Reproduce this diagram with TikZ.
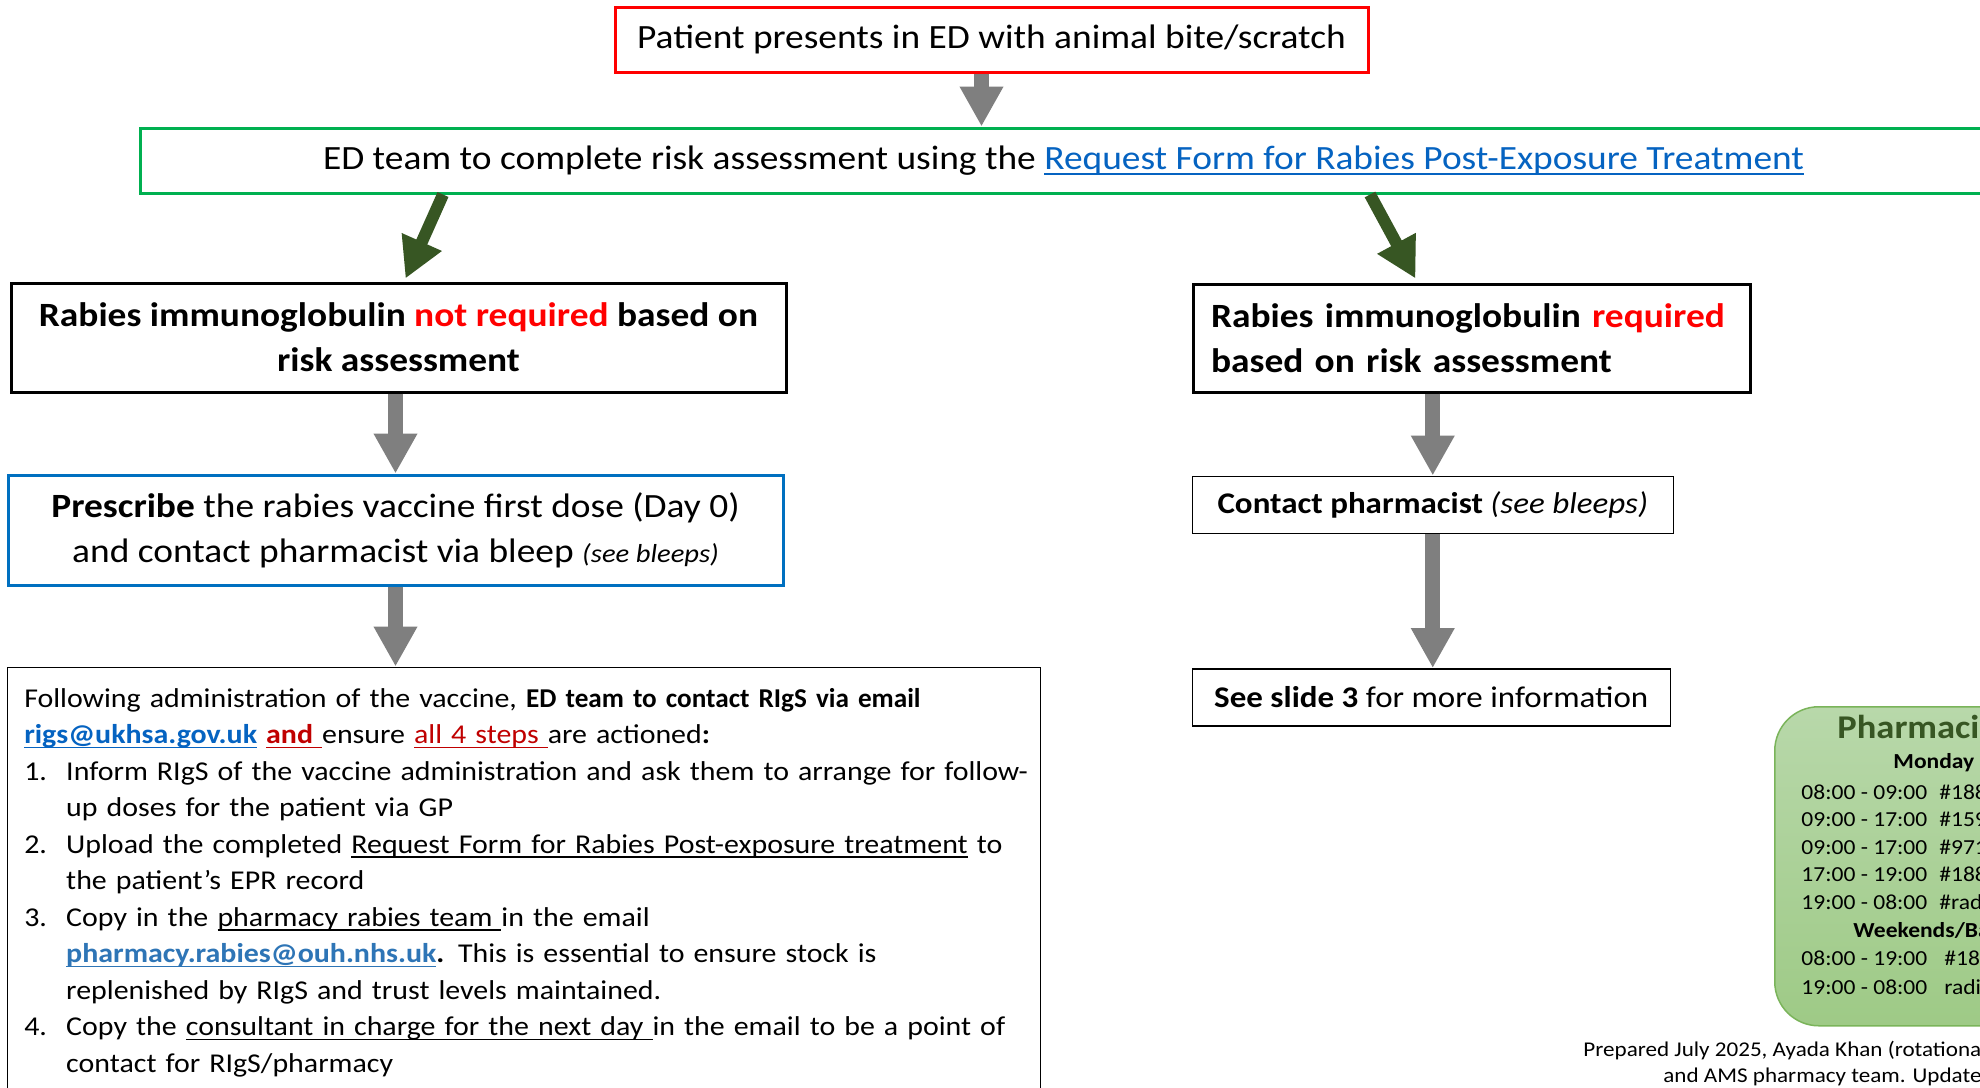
\documentclass[tikz,border=0pt]{standalone}
\usepackage{fontspec}
\setmainfont{Carlito}[FakeStretch = 1.1]
\newfontfamily\narrowfont{Carlito}
\usepackage{xcolor}
\usepackage{tikz}
\usetikzlibrary{positioning,arrows.meta}
\definecolor{flowgray}{HTML}{7F7F7F}
\definecolor{branchgreen}{HTML}{375623}
\definecolor{assessgreen}{HTML}{00B050}
\definecolor{prescribeblue}{HTML}{0070C0}
\definecolor{linkblue}{HTML}{0563C1}
\definecolor{mailblue}{HTML}{2E75B6}
\definecolor{alertred}{HTML}{FF0000}
\definecolor{darkred}{HTML}{C00000}
\definecolor{bleeptop}{HTML}{B8D8AA}
\definecolor{bleepbottom}{HTML}{9ECA86}
\definecolor{bleepedge}{HTML}{7AB45A}
\newcommand{\stepnum}[1]{\makebox[21pt][l]{#1}}
\newcommand{\stepgap}{\hspace*{21pt}}
\newcommand{\uln}[1]{\setbox0\hbox{#1}\rlap{\rule[-0.16em]{\wd0}{0.055em}}\box0\relax}

\begin{document}
\begin{tikzpicture}[x = 0.5pt, y = -0.5pt,
        box/.style = {draw = black, line width = 1.5pt, inner sep = 2pt},
        slim/.style = {draw = black, line width = 0.75pt, inner sep = 2pt},
        flow/.style = {draw = flowgray, line width = 7.5pt, -{Triangle[width = 20.5pt, length = 20pt]}},
        branch/.style = {draw = branchgreen, line width = 6pt, -{Triangle[width = 20.5pt, length = 20pt]}},
        bleepbox/.style = {draw = bleepedge, line width = 0.75pt, rounded corners = 22pt, top color = bleeptop, bottom color = bleepbottom, anchor = north west, minimum width = 200pt, minimum height = 159.5pt},
        bleep/.style = {inner sep = 0pt, anchor = west, font = \fontsize{10.7}{13}\selectfont}]
        \useasboundingbox (0, 0) rectangle (1980, 1087);
        \fill [white] (0, 0) rectangle (1980, 1087);
        \clip (0, 0) rectangle (1980, 1087);

        \node [box, draw = alertred, minimum width = 376.5pt, minimum height = 32.5pt, font = \fontsize{17}{20}\selectfont] (patient) at (991.5, 39.5) {Patient presents in ED with animal bite/scratch};
        \node [box, draw = assessgreen, anchor = west, minimum width = 923pt, minimum height = 32.5pt, font = \fontsize{17}{20}\selectfont] (assess) at (139, 160.5) {ED team to complete risk assessment using the \textcolor{linkblue}{\uln{Request Form for Rabies Post-Exposure Treatment}}};

        \node [box, align = center, minimum width = 387.5pt, minimum height = 54.5pt, font = \bfseries\fontsize{17}{22.5}\selectfont] (noRIG) at (398.5, 337.5) {Rabies immunoglobulin \textcolor{alertred}{not required} based on\\risk assessment};
        \node [box, draw = prescribeblue, align = center, below = 40pt of noRIG, xshift = -1.5pt, minimum width = 387.5pt, minimum height = 55pt, font = \fontsize{17}{22.5}\selectfont] (prescribe) {\textbf{Prescribe} the rabies vaccine first dose (Day 0)\\and contact pharmacist via bleep {\fontsize{13}{16}\selectfont\itshape (see bleeps)}};
        \node [slim, below right = 40pt and 0pt of prescribe.south west, text width = 499.5pt, inner xsep = 8.5pt, inner ysep = 10.5pt, font = \fontsize{13.6}{18.25}\selectfont] (steps) {\noindent
                \mbox{Following administration of the vaccine, {\narrowfont\bfseries ED team to contact RIgS via email}}\\
                \mbox{\textcolor{linkblue}{\textbf{\uln{rigs@ukhsa.gov.uk}}} \textcolor{darkred}{\textbf{\uln{and }}}ensure \textcolor{darkred}{\uln{all 4 steps }}are actioned\textbf{:}}\\
                \mbox{\stepnum{1.}Inform RIgS of the vaccine administration and ask them to arrange for follow-}\\
                \mbox{\stepgap up doses for the patient via GP}\\
                \mbox{\stepnum{2.}Upload the completed \uln{Request Form for Rabies Post-exposure treatment} to}\\
                \mbox{\stepgap the patient's EPR record}\\
                \mbox{\stepnum{3.}Copy in the \uln{pharmacy rabies team }in the email}\\
                \mbox{\stepgap\textcolor{mailblue}{\textbf{\uln{pharmacy.rabies@ouh.nhs.uk}}}\textbf{.} This is essential to ensure stock is}\\
                \mbox{\stepgap replenished by RIgS and trust levels maintained.}\\
                \mbox{\stepnum{4.}Copy the \uln{consultant in charge for the next day }in the email to be a point of}\\
                \mbox{\stepgap contact for RIgS/pharmacy}\par\vspace*{4pt}};

        \node [box, text width = 260.5pt, inner xsep = 9pt, minimum height = 54pt, font = \bfseries\fontsize{17}{22.5}\selectfont] (RIG) at (1471.5, 338) {\noindent Rabies immunoglobulin \textcolor{alertred}{required}\\based on risk assessment};
        \node [slim, below right = 41pt and 0pt of RIG.south west, minimum width = 240.5pt, minimum height = 28.5pt, font = \fontsize{15}{18}\selectfont] (contact) {\textbf{Contact pharmacist} \textit{(see bleeps)}};
        \node [slim, below right = 67pt and 0pt of contact.south west, minimum width = 239pt, minimum height = 28.5pt, font = \fontsize{15}{18}\selectfont] (slide) {\textbf{See slide 3} for more information};

        \draw [flow] ([xshift = -5pt]patient.south) -- ([xshift = -5pt]patient.south |- assess.north);
        \draw [branch] ([xshift = 152pt]assess.south west) -- ([xshift = 198pt, yshift = 1.5pt]noRIG.north west);
        \draw [branch] ([xshift = 615.5pt]assess.south west) -- ([xshift = 112pt, yshift = 2pt]RIG.north west);
        \draw [flow] (prescribe.north |- noRIG.south) -- (prescribe.north);
        \draw [flow] (prescribe.south) -- (prescribe.south |- steps.north);
        \draw [flow] (contact.north |- RIG.south) -- (contact.north);
        \draw [flow] (contact.south) -- (contact.south |- slide.north);

        \node [bleepbox] (bleeps) at (1774, 706) {};
        \node [bleep, font = \bfseries\fontsize{16.6}{20}\selectfont, text = branchgreen] (bleeptitle) at (1837, 727) {Pharmacist};
        \node [bleep, font = \bfseries\fontsize{10.7}{13}\selectfont] (weekday) at (1893, 763) {Monday};
        \node [bleep] (wd1) at (1801, 792) {08:00 - 09:00\hspace{6pt}\#188};
        \node [bleep] (wd2) at (1801, 819) {09:00 - 17:00\hspace{6pt}\#159};
        \node [bleep] (wd3) at (1801, 847) {09:00 - 17:00\hspace{6pt}\#971};
        \node [bleep] (wd4) at (1801, 874) {17:00 - 19:00\hspace{6pt}\#188};
        \node [bleep] (wd5) at (1801, 902) {19:00 - 08:00\hspace{6pt}\#radio};
        \node [bleep, font = \bfseries\fontsize{10.7}{13}\selectfont] (weekend) at (1853, 930) {Weekends/Bank};
        \node [bleep] (we1) at (1801, 958) {08:00 - 19:00\hspace{8.5pt}\#188};
        \node [bleep] (we2) at (1801, 987) {19:00 - 08:00\hspace{8.5pt}radio};

        \node [bleep, font = \fontsize{10.5}{13.5}\selectfont] (prepared) at (1583, 1050) {Prepared July 2025, Ayada Khan (rotational};
        \node [bleep, font = \fontsize{10.5}{13.5}\selectfont] (updated) at (1663, 1077) {and AMS pharmacy team. Updated};
    \end{tikzpicture}
\end{document}
